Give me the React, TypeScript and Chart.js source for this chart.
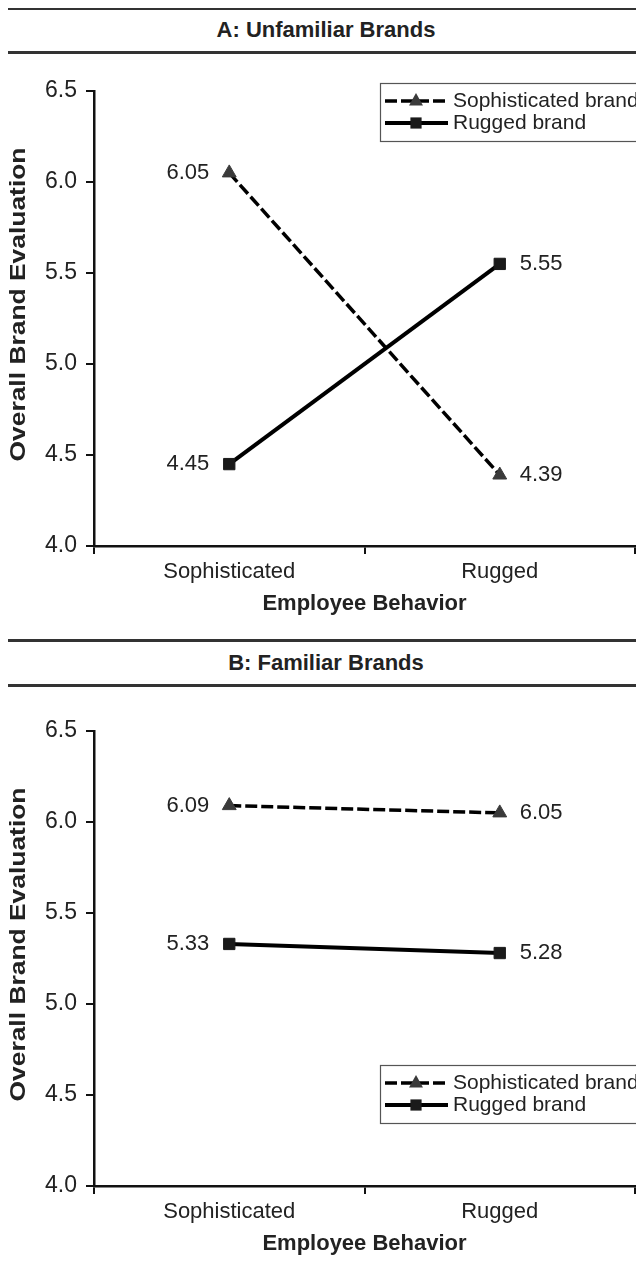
import React, { useEffect, useRef, useState } from "react";
import { Chart, registerables } from "chart.js";

Chart.register(...registerables);

// ---------- data ----------
const categories = ["Sophisticated", "Rugged"];
const seriesNames = ["Sophisticated brand", "Rugged brand"];
const unfamiliarSophisticated = [6.05, 4.39];
const unfamiliarRugged = [4.45, 5.55];
const familiarSophisticated = [6.09, 6.05];
const familiarRugged = [5.33, 5.28];
const yMin = 4.0;
const yMax = 6.5;
const yStep = 0.5;
const panelTitles = ["A: Unfamiliar Brands", "B: Familiar Brands"];
const axisTitleX = "Employee Behavior";
const axisTitleY = "Overall Brand Evaluation";

const FONT = "'Liberation Sans', Arial, Helvetica, sans-serif";
const INK = "#222";
const OFF = 8; // body margin compensation

function drawMarker(ctx: CanvasRenderingContext2D, style: string, x: number, y: number, r: number, color: string) {
  ctx.save();
  ctx.fillStyle = color;
  ctx.beginPath();
  if (style === "triangle") {
    ctx.moveTo(x, y - r);
    ctx.lineTo(x + r * 0.87, y + r * 0.55);
    ctx.lineTo(x - r * 0.87, y + r * 0.55);
    ctx.closePath();
  } else {
    ctx.rect(x - r * 0.7, y - r * 0.7, r * 1.4, r * 1.4);
  }
  ctx.fill();
  ctx.restore();
}

function makePlugin(legendTop: number) {
  return {
    id: "customDecor",
    afterDatasetsDraw(chart: any) {
      const ctx: CanvasRenderingContext2D = chart.ctx;
      const ca = chart.chartArea;
      ctx.save();
      ctx.font = `22px ${FONT}`;
      ctx.fillStyle = INK;
      ctx.textBaseline = "middle";
      chart.data.datasets.forEach((ds: any, di: number) => {
        const meta = chart.getDatasetMeta(di);
        meta.data.forEach((pt: any, i: number) => {
          const txt = Number(ds.data[i]).toFixed(2);
          if (i === 0) {
            ctx.textAlign = "right";
            ctx.fillText(txt, pt.x - 20, pt.y);
          } else {
            ctx.textAlign = "left";
            ctx.fillText(txt, pt.x + 20, pt.y);
          }
        });
      });
      ctx.restore();

      const lx = 372;
      const ly = legendTop;
      const w = 300;
      const h = 58;
      ctx.save();
      ctx.fillStyle = "#fff";
      ctx.fillRect(lx, ly, w, h);
      ctx.strokeStyle = "#555";
      ctx.lineWidth = 1.2;
      ctx.strokeRect(lx + 0.5, ly + 0.5, w, h);
      chart.data.datasets.forEach((ds: any, di: number) => {
        const ry = ly + 18 + di * 22;
        ctx.save();
        ctx.strokeStyle = ds.borderColor;
        ctx.lineWidth = ds.borderWidth;
        ctx.setLineDash(ds.borderDash || []);
        ctx.beginPath();
        ctx.moveTo(lx + 5, ry);
        ctx.lineTo(lx + 68, ry);
        ctx.stroke();
        ctx.restore();
        drawMarker(ctx, ds.pointStyle, lx + 36, ry, ds.pointRadius, ds.pointBackgroundColor);
        ctx.font = `21px ${FONT}`;
        ctx.fillStyle = INK;
        ctx.textAlign = "left";
        ctx.textBaseline = "middle";
        ctx.fillText(ds.label, lx + 73, ry);
      });
      ctx.restore();

      ctx.save();
      ctx.fillStyle = INK;
      ctx.font = `bold 22px ${FONT}`;
      ctx.textAlign = "center";
      ctx.textBaseline = "middle";
      ctx.fillText(axisTitleX, (ca.left + ca.right) / 2, ca.bottom + 58);
      ctx.translate(11, (ca.top + ca.bottom) / 2 - 14);
      ctx.rotate(-Math.PI / 2);
      ctx.scale(1.2, 1.0);
      ctx.fillText(axisTitleY, 0, 0);
      ctx.restore();
    },
  };
}

function ChartPanel(props: { sophisticated: number[]; rugged: number[]; legendTop: number; top: number }) {
  const ref = useRef<HTMLCanvasElement | null>(null);
  const [err, setErr] = useState<string>("");
  useEffect(() => {
    if (!ref.current) return;
    let chart: any = null;
    try {
      chart = new Chart(ref.current, {
        type: "line",
        data: {
          labels: categories,
          datasets: [
            {
              label: seriesNames[0],
              data: props.sophisticated,
              borderColor: "#000",
              borderWidth: 3.5,
              borderDash: [12, 4],
              pointStyle: "triangle",
              pointRadius: 8,
              pointBackgroundColor: "#3a3a3a",
              pointBorderColor: "#3a3a3a",
              pointBorderWidth: 1,
              fill: false,
              tension: 0,
            },
            {
              label: seriesNames[1],
              data: props.rugged,
              borderColor: "#000",
              borderWidth: 4,
              pointStyle: "rect",
              pointRadius: 8,
              pointBackgroundColor: "#1a1a1a",
              pointBorderColor: "#1a1a1a",
              pointBorderWidth: 1,
              fill: false,
              tension: 0,
            },
          ],
        },
        options: {
          responsive: false,
          animation: false,
          layout: { padding: { top: 31, right: 7, left: 0, bottom: 0 } },
          plugins: {
            legend: { display: false },
            tooltip: { enabled: false },
            title: { display: false },
          },
          scales: {
            x: {
              type: "category",
              offset: true,
              grid: { offset: true, drawOnChartArea: false, drawTicks: true, tickLength: 8, color: "#111", lineWidth: 2 },
              border: { display: true, color: "#111", width: 2.5 },
              ticks: { color: INK, font: { family: FONT, size: 22 }, padding: 5, maxRotation: 0 },
              afterFit: (s: any) => {
                s.height = 86;
              },
            },
            y: {
              type: "linear",
              min: yMin,
              max: yMax,
              ticks: {
                stepSize: yStep,
                color: INK,
                font: { family: FONT, size: 23 },
                padding: 9,
                callback: (v: any) => Number(v).toFixed(1),
              },
              grid: { drawOnChartArea: false, drawTicks: true, tickLength: 8, color: "#111", lineWidth: 2 },
              border: { display: true, color: "#111", width: 2.5 },
              afterFit: (s: any) => {
                s.width = 86;
              },
            },
          },
        },
        plugins: [makePlugin(props.legendTop)],
      } as any);
    } catch (e: any) {
      setErr(String(e && e.stack ? e.stack : e));
    }
    return () => {
      if (chart) chart.destroy();
    };
  }, []);
  return (
    <>
      <canvas
        ref={ref}
        width={636}
        height={572}
        style={{ position: "absolute", left: 8 - OFF, top: props.top - OFF, width: 636, height: 572 }}
      />
      {err ? (
        <pre style={{ position: "absolute", left: 0, top: props.top + 100, fontSize: 10, whiteSpace: "pre-wrap", width: 620 }}>{err}</pre>
      ) : null}
    </>
  );
}

function Rule(props: { top: number }) {
  return <div style={{ position: "absolute", left: 8 - OFF, top: props.top - OFF, width: 636, height: 3, background: "#333" }} />;
}

function PanelTitle(props: { center: number; text: string }) {
  return (
    <div
      style={{
        position: "absolute",
        left: 8 - OFF,
        width: 636,
        top: props.center - 13 - OFF,
        height: 26,
        lineHeight: "26px",
        textAlign: "center",
        fontFamily: FONT,
        fontWeight: "bold",
        fontSize: 22,
        color: INK,
      }}
    >
      {props.text}
    </div>
  );
}

export default function App() {
  return (
    <div style={{ position: "relative", width: 628, height: 1262 }}>
      <Rule top={7} />
      <PanelTitle center={30} text={panelTitles[0]} />
      <Rule top={51} />
      <ChartPanel top={60} sophisticated={unfamiliarSophisticated} rugged={unfamiliarRugged} legendTop={23} />
      <Rule top={639} />
      <PanelTitle center={663} text={panelTitles[1]} />
      <Rule top={684} />
      <ChartPanel top={700} sophisticated={familiarSophisticated} rugged={familiarRugged} legendTop={365} />
    </div>
  );
}
